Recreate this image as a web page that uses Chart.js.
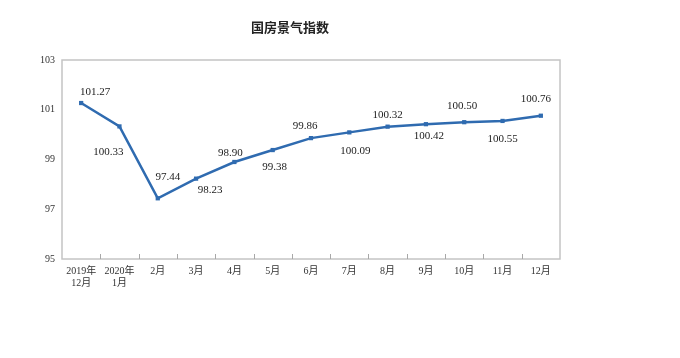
<!DOCTYPE html>
<html>
<head>
<meta charset="utf-8">
<script src="https://cdn.jsdelivr.net/npm/chart.js@4/dist/chart.umd.min.js"></script>
<style>
  html, body { margin: 0; padding: 0; background: #fff; }
  canvas { display: block; }
</style>
</head>
<body>
<canvas id="chart" width="680" height="358"></canvas>
<script>
// data
const categories = [['2019年', '12月'], ['2020年', '1月'], '2月', '3月', '4月', '5月', '6月', '7月', '8月', '9月', '10月', '11月', '12月'];
const values = [101.27, 100.33, 97.44, 98.23, 98.90, 99.38, 99.86, 100.09, 100.32, 100.42, 100.50, 100.55, 100.76];
const yMin = 95, yMax = 103, yStep = 2;
const chartTitle = '国房景气指数';

// where each value label sits relative to its point (dx, dy)
const labelOffsets = [[14, -11], [-11, 26], [10, -21], [14, 11], [-4, -9], [2, 17], [-6, -12],
                      [6, 19], [0, -12], [3, 12], [-2, -16], [0, 18], [-5, -17]];

const serif = '"Liberation Serif", "Noto Sans CJK SC", serif';
const lineColor = '#2F6BB0';

const decor = {
  id: 'decor',
  beforeDatasetsDraw(chart) {
    const { ctx, chartArea: a } = chart;
    ctx.save();
    ctx.strokeStyle = '#C4C4C4';
    ctx.lineWidth = 1.5;
    ctx.strokeRect(a.left, a.top, a.right - a.left, a.bottom - a.top);
    // inward tick marks between categories
    const step = (a.right - a.left) / categories.length;
    ctx.lineWidth = 1;
    ctx.strokeStyle = '#A8A8A8';
    for (let i = 1; i < categories.length; i++) {
      const x = Math.round(a.left + i * step) + 0.5;
      ctx.beginPath();
      ctx.moveTo(x, a.bottom);
      ctx.lineTo(x, a.bottom - 5);
      ctx.stroke();
    }
    ctx.restore();
  },
  afterDatasetsDraw(chart) {
    const { ctx } = chart;
    const meta = chart.getDatasetMeta(0);
    ctx.save();
    ctx.fillStyle = '#222';
    ctx.font = '11px ' + serif;
    ctx.textAlign = 'center';
    ctx.textBaseline = 'middle';
    meta.data.forEach((pt, i) => {
      const off = labelOffsets[i];
      ctx.fillText(values[i].toFixed(2), pt.x + off[0], pt.y + off[1]);
    });
    // title
    ctx.font = 'bold 13px "Noto Sans CJK SC", sans-serif';
    ctx.fillStyle = '#222';
    ctx.fillText(chartTitle, 290, 27);
    ctx.restore();
  }
};

const ctx = document.getElementById('chart').getContext('2d');
new Chart(ctx, {
  type: 'line',
  data: {
    labels: categories,
    datasets: [{
      data: values,
      borderColor: lineColor,
      backgroundColor: lineColor,
      borderWidth: 2.5,
      pointStyle: 'rect',
      pointRadius: 3,
      pointBorderWidth: 0,
      tension: 0,
      fill: false
    }]
  },
  options: {
    responsive: false,
    animation: false,
    devicePixelRatio: 1,
    layout: { padding: { top: 60, right: 120, left: 0, bottom: 0 } },
    plugins: {
      legend: { display: false },
      title: { display: false },
      tooltip: { enabled: false }
    },
    scales: {
      x: {
        offset: true,
        grid: { display: false, drawTicks: false },
        border: { display: false },
        ticks: {
          color: '#333',
          font: { family: serif, size: 10 },
          padding: 6,
          maxRotation: 0,
          autoSkip: false
        },
        afterFit(scale) { scale.height = 99; }
      },
      y: {
        min: yMin,
        max: yMax,
        grid: { display: false, drawTicks: false },
        border: { display: false },
        ticks: {
          stepSize: yStep,
          color: '#333',
          font: { family: serif, size: 10 },
          padding: 7
        },
        afterFit(scale) { scale.width = 62; }
      }
    }
  },
  plugins: [decor]
});
</script>
</body>
</html>
